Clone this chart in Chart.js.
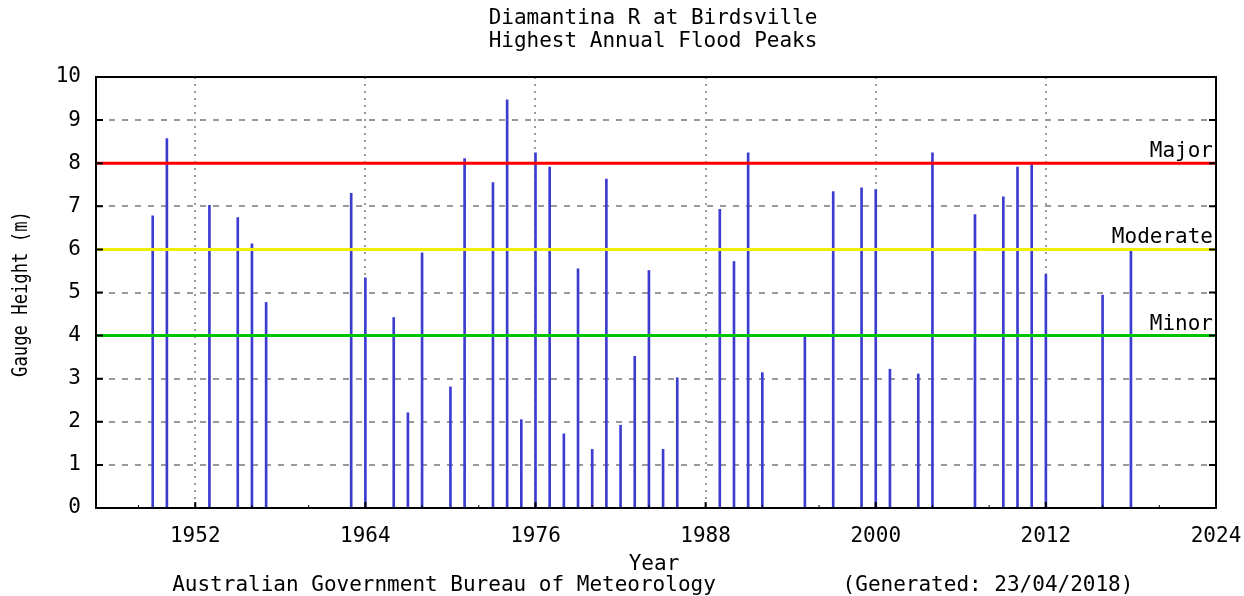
<!DOCTYPE html>
<html>
<head>
<meta charset="utf-8">
<script src="https://cdn.jsdelivr.net/npm/chart.js@4.4.1/dist/chart.umd.min.js"></script>
<style>
  html, body { margin: 0; padding: 0; background: #fff; }
  #wrap { width: 1244px; height: 596px; position: relative; }
  canvas { display: block; }
</style>
</head>
<body>
<div id="wrap"><canvas id="chart" width="1244" height="596"></canvas></div>
<script>
// flood peak data
const years = [1949, 1950, 1953, 1955, 1956, 1957, 1963, 1964, 1966, 1967, 1968, 1970, 1971,
  1973, 1974, 1975, 1976, 1977, 1978, 1979, 1980, 1981, 1982, 1983, 1984, 1985, 1986,
  1989, 1990, 1991, 1992, 1995, 1997, 1999, 2000, 2001, 2003, 2004, 2007, 2009, 2010,
  2011, 2012, 2016, 2018];
const peaks = [6.78, 8.57, 7.02, 6.74, 6.13, 4.77, 7.30, 5.34, 4.42, 2.21, 5.92, 2.81, 8.11,
  7.55, 9.47, 2.05, 8.24, 7.91, 1.72, 5.55, 1.36, 7.63, 1.92, 3.52, 5.51, 1.36, 3.02,
  6.93, 5.72, 8.24, 3.14, 3.99, 7.34, 7.43, 7.39, 3.22, 3.11, 8.24, 6.81, 7.22, 7.91,
  7.99, 5.42, 4.94, 5.99];

const levelNames = ["Major", "Moderate", "Minor"];
const levelValues = [8, 6, 4];
const levelColors = ["#ff0000", "#eeee00", "#00c400"];

const xTickYears = [1952, 1964, 1976, 1988, 2000, 2012, 2024];
const xMinorYears = [1948, 1956, 1960, 1968, 1972, 1980, 1984, 1992, 1996, 2004, 2008, 2016, 2020];
const xMin = 1945;
const xMax = 2024;

const FONT = "DejaVu Sans Mono";

const levelDatasets = levelValues.map((v, i) => ({
  type: "line",
  label: levelNames[i],
  data: [{ x: xMin, y: v }, { x: xMax, y: v }],
  borderColor: levelColors[i],
  borderWidth: 3,
  pointRadius: 0,
  fill: false,
  order: 0,
}));

// draws titles, frame, inner ticks and threshold labels
const framePlugin = {
  id: "frame",
  afterDraw(chart) {
    const { ctx, chartArea: a, scales } = chart;
    const xs = scales.x;
    const ys = scales.y;
    ctx.save();

    // inward ticks
    ctx.strokeStyle = "#000";
    ctx.lineWidth = 2;
    ctx.beginPath();
    ys.ticks.forEach((t) => {
      const y = ys.getPixelForValue(t.value);
      ctx.moveTo(a.left, y); ctx.lineTo(a.left + 7, y);
      ctx.moveTo(a.right, y); ctx.lineTo(a.right - 7, y);
    });
    xTickYears.forEach((yr) => {
      const x = xs.getPixelForValue(yr);
      ctx.moveTo(x, a.bottom); ctx.lineTo(x, a.bottom - 6);
    });
    ctx.stroke();
    ctx.lineWidth = 1;
    ctx.beginPath();
    xMinorYears.forEach((yr) => {
      const x = xs.getPixelForValue(yr);
      ctx.moveTo(x, a.bottom); ctx.lineTo(x, a.bottom - 3);
    });
    ctx.stroke();

    // frame
    ctx.lineWidth = 2;
    ctx.strokeRect(a.left, a.top, a.right - a.left, a.bottom - a.top);

    // threshold labels
    ctx.fillStyle = "#000";
    ctx.font = `21px "${FONT}"`;
    ctx.textAlign = "right";
    ctx.textBaseline = "bottom";
    levelValues.forEach((v, i) => {
      ctx.fillText(levelNames[i], a.right - 3, ys.getPixelForValue(v) - 1);
    });

    // titles
    const cx = (a.left + a.right) / 2;
    ctx.textAlign = "center";
    ctx.textBaseline = "middle";
    ctx.fillText("Diamantina R at Birdsville", cx - 3, 19);
    ctx.fillText("Highest Annual Flood Peaks", cx - 3, 42);
    ctx.fillText("Year", cx - 2, 565);
    ctx.fillText("Australian Government Bureau of Meteorology", 444, 586);
    ctx.fillText("(Generated: 23/04/2018)", 988, 586);

    // y axis title, squeezed along its length like the original
    ctx.save();
    ctx.translate(27, 294);
    ctx.rotate(-Math.PI / 2);
    ctx.scale(0.82, 1);
    ctx.textBaseline = "alphabetic";
    ctx.fillText("Gauge Height (m)", 0, 0);
    ctx.restore();

    ctx.restore();
  },
};

const ctx = document.getElementById("chart").getContext("2d");
new Chart(ctx, {
  type: "bar",
  data: {
    datasets: [
      {
        label: "Peak",
        data: years.map((yr, i) => ({ x: yr, y: peaks[i] })),
        backgroundColor: "#3c3cd0",
        barThickness: 2,
        order: 1,
      },
      ...levelDatasets,
    ],
  },
  options: {
    responsive: false,
    animation: false,
    layout: { padding: { top: 77, right: 28, left: 0, bottom: 0 } },
    plugins: {
      legend: { display: false },
      tooltip: { enabled: false },
    },
    scales: {
      x: {
        type: "linear",
        min: xMin,
        max: xMax,
        offset: false,
        afterBuildTicks: (scale) => {
          scale.ticks = xTickYears.map((v) => ({ value: v }));
        },
        afterFit: (scale) => {
          scale.height = 88;
          scale.paddingLeft = 0;
          scale.paddingRight = 0;
        },
        grid: {
          offset: false,
          color: (c) => (c.tick && c.tick.value === xMax ? "rgba(0,0,0,0)" : "#9a9a9a"),
          lineWidth: 2,
          drawTicks: false,
        },
        border: { display: false, dash: [2, 5] },
        ticks: {
          padding: 16,
          maxRotation: 0,
          color: "#000",
          font: { family: FONT, size: 21 },
          callback: (v) => String(v),
        },
      },
      y: {
        min: 0,
        max: 10,
        afterFit: (scale) => {
          scale.width = 96;
        },
        grid: {
          color: (c) => (c.tick && (c.tick.value === 0 || c.tick.value === 10) ? "rgba(0,0,0,0)" : "#9a9a9a"),
          lineWidth: 2,
          drawTicks: false,
        },
        border: { display: false, dash: [6, 7] },
        ticks: {
          stepSize: 1,
          padding: 15,
          color: "#000",
          font: { family: FONT, size: 21 },
        },
      },
    },
  },
  plugins: [framePlugin],
});
</script>
</body>
</html>
